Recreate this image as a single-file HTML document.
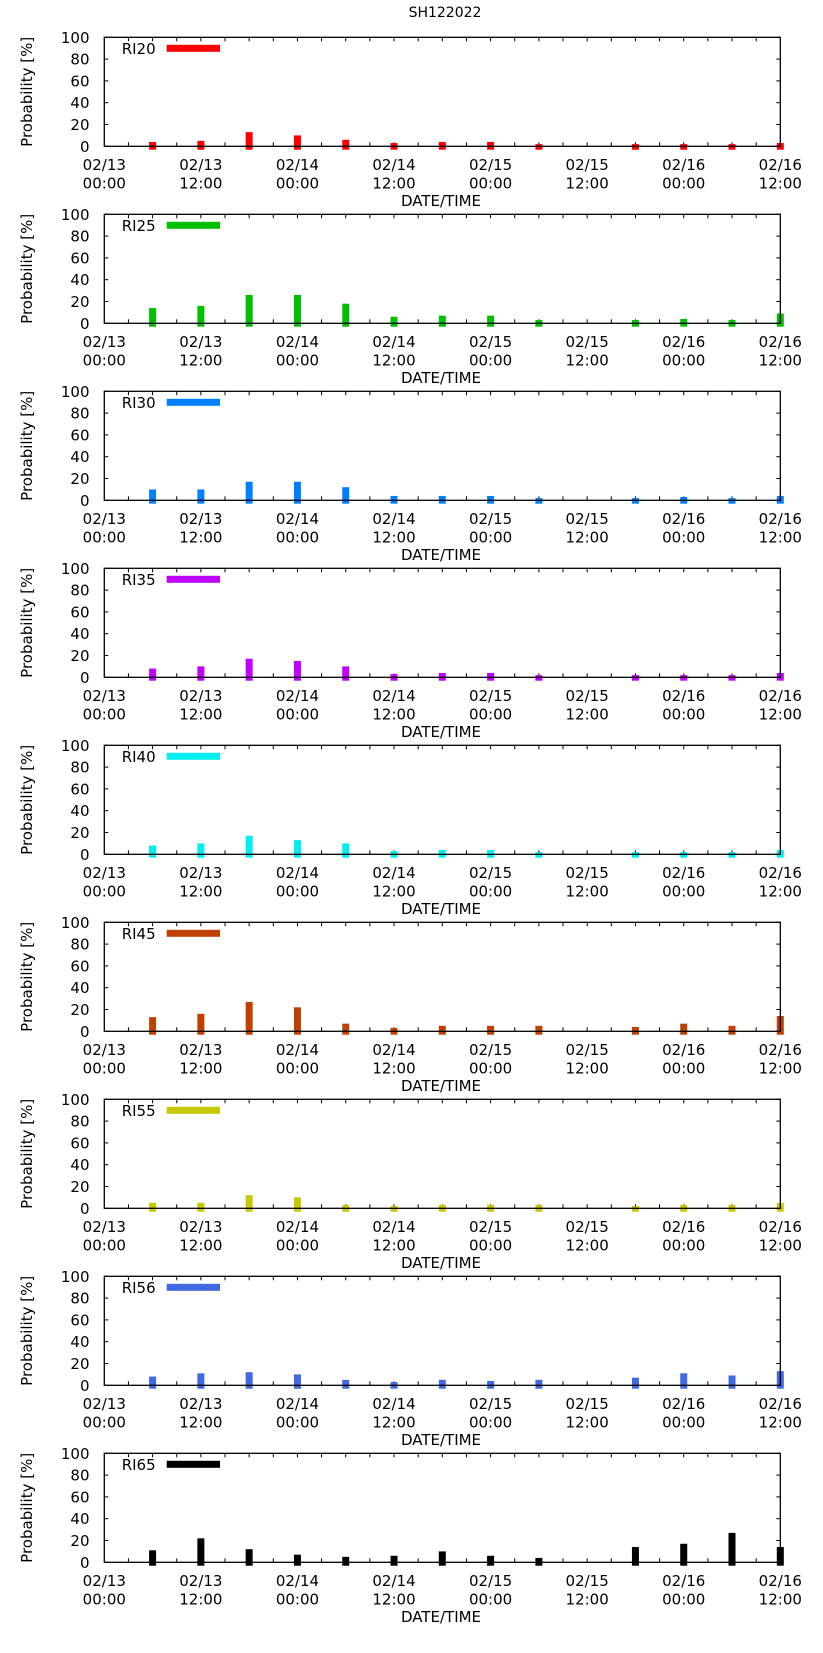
<!DOCTYPE html>
<html><head><meta charset="utf-8"><style>
html,body{margin:0;padding:0;background:#fff;}
svg{display:block;font-family:"DejaVu Sans","Liberation Sans",sans-serif;}
</style></head><body>
<svg id="chart" width="823" height="1653" viewBox="0 0 823 1653" xmlns="http://www.w3.org/2000/svg">
<rect width="823" height="1653" fill="#fff"/>
<text x="445" y="17" font-size="14" text-anchor="middle">SH122022</text>
</svg>
<script>
const hours = [6,12,18,24,30,36,42,48,54,66,72,78,84];
const seriesNames = ["RI20","RI25","RI30","RI35","RI40","RI45","RI55","RI56","RI65"];
const ri20 = [4,5,13,10,6,3,4,4,2,2,2,2,3];
const ri25 = [14,16,26,26,18,6,7,7,3,3,4,3,9];
const ri30 = [10,10,17,17,12,4,4,4,2,2,3,2,4];
const ri35 = [8,10,17,15,10,3,4,4,2,2,2,2,4];
const ri40 = [8,10,17,13,10,3,4,4,2,2,2,2,4];
const ri45 = [13,16,27,22,7,3,5,5,5,4,7,5,14];
const ri55 = [5,5,12,10,3,2,3,3,3,2,3,3,5];
const ri56 = [8,11,12,10,5,3,5,4,5,7,11,9,13];
const ri65 = [11,22,12,7,5,6,10,6,4,14,17,27,14];
const yTicks = [0,20,40,60,80,100];
const xTickHours = [0,12,24,36,48,60,72,84];
const xTickDates = ["02/13","02/13","02/14","02/14","02/15","02/15","02/16","02/16"];
const xTickTimes = ["00:00","12:00","00:00","12:00","00:00","12:00","00:00","12:00"];

const allSeries = [ri20,ri25,ri30,ri35,ri40,ri45,ri55,ri56,ri65];
const colors = ["#ff0000","#00c000","#0080ff","#c000ff","#00eeee","#c04000","#c8c800","#4169e1","#000000"];
const svg = document.getElementById('chart');
const NS = "http://www.w3.org/2000/svg";
const L = 104.3, R = 780.3, PH = 109, TOP0 = 37.3, STEP = 177, XMAX = 84;
function xs(h){ return L + (R - L) * h / XMAX; }
function mk(tag, attrs, parent){ const e = document.createElementNS(NS, tag); for (const k in attrs) e.setAttribute(k, attrs[k]); (parent||svg).appendChild(e); return e; }

allSeries.forEach((vals, i) => {
  const top = TOP0 + STEP * i, bot = top + PH;
  const ys = v => bot - PH * v / 100;
  const g = mk('g', {});
  
  
  for (let h = 3; h < XMAX; h += 3) {
    const t1 = mk('line', {x1: xs(h), x2: xs(h), y1: bot, y2: bot - 4, stroke: '#000', 'stroke-width': 1}, g);
    
    
    const t2 = mk('line', {x1: xs(h), x2: xs(h), y1: top, y2: top + 4, stroke: '#000', 'stroke-width': 1}, g);
    
    
  }
  yTicks.forEach(v => {
    const y = ys(v);
    const t = mk('line', {x1: L, x2: L + 4, y1: y, y2: y, stroke: '#000'}, g);
    
    
    const t2 = mk('line', {x1: R, x2: R - 4, y1: y, y2: y, stroke: '#000'}, g);
    
    
    const lb = mk('text', {x: 89.5, y: y + 5.5, 'font-size': 15, 'text-anchor': 'end'}, g);
    lb.textContent = v;
    
    
  });
  xTickHours.forEach((h, k) => {
    const a = mk('text', {x: xs(h), y: bot + 23.7, 'font-size': 15, 'text-anchor': 'middle'}, g);
    a.textContent = xTickDates[k];
    
    
    const b = mk('text', {x: xs(h), y: bot + 42, 'font-size': 15, 'text-anchor': 'middle'}, g);
    b.textContent = xTickTimes[k];
    
    
  });
  const xt = mk('text', {x: 441, y: bot + 59.5, 'font-size': 15, 'text-anchor': 'middle'}, g);
  xt.textContent = 'DATE/TIME';
  
  
  const yt = mk('text', {x: 0, y: 0, 'font-size': 15, 'text-anchor': 'middle', transform: `translate(32,${top + PH/2}) rotate(-90)`}, g);
  yt.textContent = 'Probability [%]';
  
  
  vals.forEach((v, k) => {
    const x = xs(hours[k]);
    const yTop = ys(v);
    const b = mk('rect', {x: x - 3.5, y: yTop, width: 7, height: bot + 3.4 - yTop, fill: colors[i]}, g);
    
    
  });
  const frame = mk('rect', {x: L, y: top, width: R - L, height: PH, fill: 'none', stroke: '#000', 'stroke-width': 1.3}, g);
  
  
  const lt = mk('text', {x: 121.7, y: top + 16.5, 'font-size': 15}, g);
  lt.textContent = seriesNames[i];
  
  
  const ll = mk('rect', {x: 166.7, y: top + 7.5, width: 53.3, height: 7, fill: colors[i]}, g);
  
  
});
</script>
</body></html>
